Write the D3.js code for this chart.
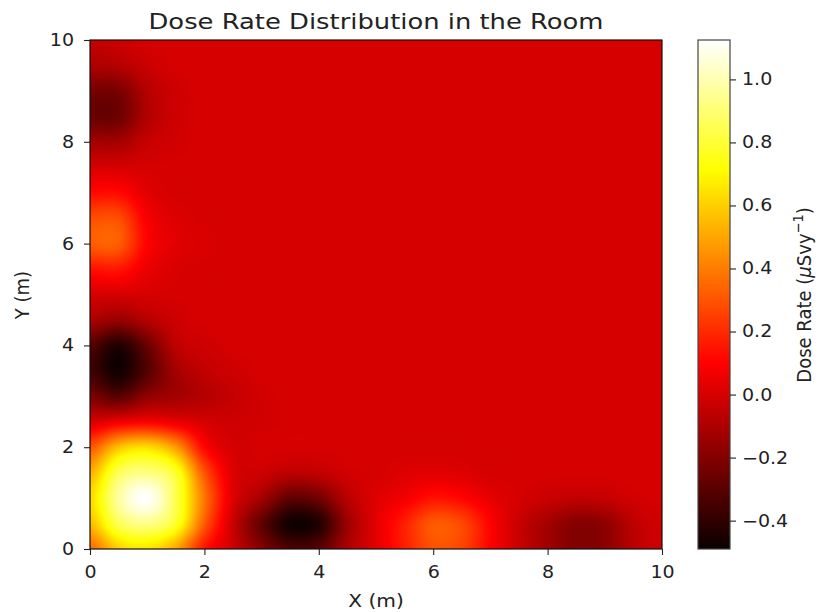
<!DOCTYPE html>
<html><head><meta charset="utf-8">
<script src="https://cdn.jsdelivr.net/npm/d3@7"></script>
<style>
body{margin:0;background:#fff;}
svg{display:block;}
text{font-family:"DejaVu Sans",sans-serif;fill:#222;}
</style>
</head><body>
<svg id="chart" width="830" height="612"></svg>
<script>
// ---------- data ----------
const xNodes = [0,0.5,1,1.5,2,2.5,3,3.5,4,4.5,5,5.5,6,6.5,7,7.5,8,8.5,9,9.5,10];
const yNodes = [0,0.5,1,1.5,2,2.5,3,3.5,4,4.5,5,5.5,6,6.5,7,7.5,8,8.5,9,9.5,10];
// dose rate (µSv/y) at grid nodes; row j = yNodes[j], column i = xNodes[i]
const doseRows = [
  [0.35,0.60,0.65,0.50,0.15,-0.02,-0.20,-0.33,-0.30,-0.10,0.03,0.17,0.29,0.26,0.10,-0.03,-0.13,-0.20,-0.18,-0.07,-0.02],
  [0.55,0.85,0.93,0.78,0.32,-0.03,-0.28,-0.47,-0.43,-0.14,0.03,0.17,0.31,0.27,0.10,-0.03,-0.12,-0.19,-0.17,-0.06,-0.01],
  [0.62,0.97,1.12,0.84,0.38,0.02,-0.12,-0.28,-0.24,-0.07,0.02,0.07,0.14,0.11,0.04,0.00,-0.03,-0.05,-0.04,-0.01,0],
  [0.52,0.85,0.92,0.78,0.30,0.02,-0.02,-0.06,-0.05,-0.01,0,0.02,0.03,0.02,0,0,0,0,0,0,0],
  [0.30,0.56,0.63,0.47,0.11,0.00,0,0,0,0,0,0,0,0,0,0,0,0,0,0,0],
  [0.00,0.06,0.09,0.05,0.00,-0.02,-0.01,0,0,0,0,0,0,0,0,0,0,0,0,0,0],
  [-0.22,-0.30,-0.17,-0.12,-0.08,-0.04,-0.01,0,0,0,0,0,0,0,0,0,0,0,0,0,0],
  [-0.36,-0.47,-0.31,-0.12,-0.05,-0.02,0,0,0,0,0,0,0,0,0,0,0,0,0,0,0],
  [-0.31,-0.43,-0.26,-0.06,-0.02,0,0,0,0,0,0,0,0,0,0,0,0,0,0,0,0],
  [-0.10,-0.15,-0.08,-0.02,0,0,0,0,0,0,0,0,0,0,0,0,0,0,0,0,0],
  [0.00,0.00,0.00,0,0,0,0,0,0,0,0,0,0,0,0,0,0,0,0,0,0],
  [0.14,0.15,0.05,0.01,0,0,0,0,0,0,0,0,0,0,0,0,0,0,0,0,0],
  [0.32,0.32,0.10,0.03,0.01,0,0,0,0,0,0,0,0,0,0,0,0,0,0,0,0],
  [0.28,0.28,0.08,0.02,0,0,0,0,0,0,0,0,0,0,0,0,0,0,0,0,0],
  [0.12,0.12,0.03,0,0,0,0,0,0,0,0,0,0,0,0,0,0,0,0,0,0],
  [0.00,0.00,0.00,0,0,0,0,0,0,0,0,0,0,0,0,0,0,0,0,0,0],
  [-0.12,-0.12,-0.04,-0.01,0,0,0,0,0,0,0,0,0,0,0,0,0,0,0,0,0],
  [-0.26,-0.25,-0.09,-0.02,0,0,0,0,0,0,0,0,0,0,0,0,0,0,0,0,0],
  [-0.23,-0.22,-0.08,-0.02,0,0,0,0,0,0,0,0,0,0,0,0,0,0,0,0,0],
  [-0.10,-0.08,-0.03,0,0,0,0,0,0,0,0,0,0,0,0,0,0,0,0,0,0],
  [-0.05,-0.03,0,0,0,0,0,0,0,0,0,0,0,0,0,0,0,0,0,0,0]
];
const xTicks = [0,2,4,6,8,10];
const yTicks = [0,2,4,6,8,10];
const colorTicks = [-0.4,-0.2,0.0,0.2,0.4,0.6,0.8,1.0];
const colorLimits = [-0.49, 1.125];
const titleText = "Dose Rate Distribution in the Room";
const xLabelText = "X (m)";
const yLabelText = "Y (m)";

// ---------- layout ----------
const plot = {left:90, right:662, top:40, bottom:549};
const cbar = {left:698, right:730};
const SX = 1.12; // horizontal stretch of the original picture's text

const svg = d3.select("#chart");
const x = d3.scaleLinear().domain([0,10]).range([plot.left, plot.right]);
const y = d3.scaleLinear().domain([0,10]).range([plot.bottom, plot.top]);
const cScale = d3.scaleLinear().domain(colorLimits).range([0,1]).clamp(true);
const cbY = d3.scaleLinear().domain(colorLimits).range([plot.bottom, plot.top]);

// matplotlib "hot" colormap
function hot(t){
  const a = 0.365079, b = 0.746032;
  const r = t < a ? 0.0416 + (t/a)*(1-0.0416) : 1;
  const g = t < a ? 0 : (t < b ? (t-a)/(b-a) : 1);
  const bl = t < b ? 0 : (t-b)/(1-b);
  return [Math.round(r*255), Math.round(g*255), Math.round(bl*255)];
}

// bicubic (Catmull-Rom) sampling of the node grid
function cr(p0,p1,p2,p3,t){
  return 0.5*((2*p1) + (-p0+p2)*t + (2*p0-5*p1+4*p2-p3)*t*t + (-p0+3*p1-3*p2+p3)*t*t*t);
}
const nx = xNodes.length, ny = yNodes.length;
const dxN = xNodes[1]-xNodes[0], dyN = yNodes[1]-yNodes[0];
function node(i,j){
  i = Math.max(0, Math.min(nx-1, i));
  j = Math.max(0, Math.min(ny-1, j));
  return doseRows[j][i];
}
function sample(xv, yv){
  const gx = (xv - xNodes[0]) / dxN, gy = (yv - yNodes[0]) / dyN;
  let i0 = Math.floor(gx), j0 = Math.floor(gy);
  if (i0 >= nx-1) i0 = nx-2; if (j0 >= ny-1) j0 = ny-2;
  const tx = gx - i0, ty = gy - j0;
  const col = [];
  for (let m=-1; m<=2; m++){
    col.push(cr(node(i0-1,j0+m), node(i0,j0+m), node(i0+1,j0+m), node(i0+2,j0+m), tx));
  }
  return cr(col[0],col[1],col[2],col[3],ty);
}

// heatmap raster
const W = plot.right - plot.left, H = plot.bottom - plot.top;
const cv = document.createElement("canvas");
cv.width = W; cv.height = H;
const ctx = cv.getContext("2d");
const img = ctx.createImageData(W, H);
for (let py=0; py<H; py++){
  const yv = y.invert(plot.top + py + 0.5);
  for (let px=0; px<W; px++){
    const xv = x.invert(plot.left + px + 0.5);
    const c = hot(cScale(sample(xv, yv)));
    const k = (py*W + px)*4;
    img.data[k]=c[0]; img.data[k+1]=c[1]; img.data[k+2]=c[2]; img.data[k+3]=255;
  }
}
ctx.putImageData(img,0,0);
svg.append("image").attr("x",plot.left).attr("y",plot.top)
  .attr("width",W).attr("height",H).attr("href", cv.toDataURL());

// colorbar raster
const CW = cbar.right - cbar.left;
const cv2 = document.createElement("canvas");
cv2.width = CW; cv2.height = H;
const ctx2 = cv2.getContext("2d");
const img2 = ctx2.createImageData(CW, H);
for (let py=0; py<H; py++){
  const c = hot(cScale(cbY.invert(plot.top + py + 0.5)));
  for (let px=0; px<CW; px++){
    const k=(py*CW+px)*4;
    img2.data[k]=c[0]; img2.data[k+1]=c[1]; img2.data[k+2]=c[2]; img2.data[k+3]=255;
  }
}
ctx2.putImageData(img2,0,0);
svg.append("image").attr("x",cbar.left).attr("y",plot.top)
  .attr("width",CW).attr("height",H).attr("href", cv2.toDataURL());

// frames
svg.append("rect").attr("x",plot.left).attr("y",plot.top).attr("width",W).attr("height",H)
  .attr("fill","none").attr("stroke","#111").attr("stroke-width",1.2);
svg.append("rect").attr("x",cbar.left).attr("y",plot.top).attr("width",CW).attr("height",H)
  .attr("fill","none").attr("stroke","#444").attr("stroke-width",1.2);

const fmtMinus = d => d3.format(".1f")(d).replace("-", "\u2212");
const tickFont = 17;

function styleAxis(g){
  g.select(".domain").remove();
  g.selectAll(".tick line").attr("stroke","#222").attr("stroke-width",1.1);
  g.selectAll(".tick text").attr("font-size",tickFont).attr("fill","#222")
    .attr("font-family","DejaVu Sans, sans-serif");
}

// x axis
const gx = svg.append("g").attr("transform",`translate(0,${plot.bottom})`)
  .call(d3.axisBottom(x).tickValues(xTicks).tickFormat(d3.format("d")).tickSize(6).tickPadding(10));
styleAxis(gx);
gx.selectAll(".tick text").attr("transform",`scale(${SX},1)`).attr("x",0).attr("dy","0.78em");

// y axis
const gy = svg.append("g").attr("transform",`translate(${plot.left},0)`)
  .call(d3.axisLeft(y).tickValues(yTicks).tickFormat(d3.format("d")).tickSize(6).tickPadding(0));
styleAxis(gy);
gy.selectAll(".tick text").attr("x",0).attr("transform",`translate(-16,0) scale(${SX},1)`);

// colorbar axis
const gc = svg.append("g").attr("transform",`translate(${cbar.right},0)`)
  .call(d3.axisRight(cbY).tickValues(colorTicks).tickFormat(fmtMinus).tickSize(6).tickPadding(0));
styleAxis(gc);
gc.selectAll(".tick text").attr("x",0).attr("transform",`translate(12,0) scale(${SX},1)`);

// title
svg.append("text").attr("x",376).attr("y",29).attr("text-anchor","middle")
  .attr("font-size",22).attr("textLength",455).attr("lengthAdjust","spacingAndGlyphs")
  .text(titleText);

// axis labels
svg.append("g").attr("transform",`translate(376,607) scale(${SX},1)`)
  .append("text").attr("text-anchor","middle").attr("font-size",18).text(xLabelText);
svg.append("g").attr("transform",`translate(29,295) scale(${SX},1) rotate(-90)`)
  .append("text").attr("text-anchor","middle").attr("font-size",18).text(yLabelText);

// colorbar label with mathtext-like parts
const cl = svg.append("g").attr("transform",`translate(811,295) scale(${SX},1) rotate(-90)`)
  .append("text").attr("text-anchor","middle").attr("font-size",18);
cl.append("tspan").text("Dose Rate (");
cl.append("tspan").attr("font-style","italic").text("\u03bc");
cl.append("tspan").text("Svy");
cl.append("tspan").attr("font-size",13).attr("dy",-7).text("\u22121");
cl.append("tspan").attr("dy",7).text(")");
</script>
</body></html>
